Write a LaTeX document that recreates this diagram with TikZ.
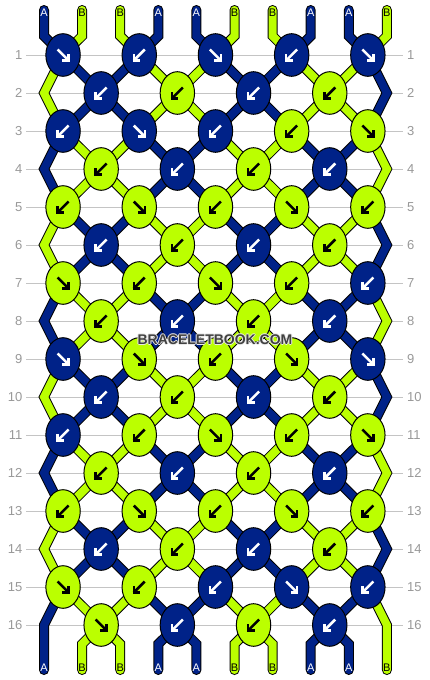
\documentclass[tikz,border=0pt]{standalone}
\usepackage{fontspec}
\setmainfont{Liberation Sans}
\usetikzlibrary{calc,shapes.geometric}
\definecolor{thA}{HTML}{002288}
\definecolor{thB}{HTML}{BBFF00}
\definecolor{gridc}{HTML}{C4C4C4}
\definecolor{numc}{HTML}{999999}
\definecolor{wmc}{HTML}{404040}
\definecolor{wmhalo}{HTML}{E8E8E8}
\pgfdeclarelayer{grid}\pgfdeclarelayer{bg}
\pgfsetlayers{grid,bg,main}
\tikzset{
  knotbase/.style={ellipse,draw=black,line width=1pt,minimum width=34.4pt,minimum height=42.6pt,inner sep=0pt},
  knotA/.style={knotbase,fill=thA},
  knotB/.style={knotbase,fill=thB},
  arrbase/.style={line width=2.5pt,line join=miter,line cap=butt},
  arrA/.style={arrbase,draw=white},
  arrB/.style={arrbase,draw=black},
  thrbase/.style={line width=8pt,line cap=round,line join=miter},
  thr0/.style={thrbase,draw=thA,preaction={draw=black,line width=10pt,line cap=round,line join=miter}},
  thr1/.style={thrbase,draw=thB,preaction={draw=black,line width=10pt,line cap=round,line join=miter}},
  labA/.style={text=white,font=\fontsize{11}{11}\selectfont,inner sep=0pt},
  labB/.style={text=black,font=\fontsize{11}{11}\selectfont,inner sep=0pt},
  rownum/.style={text=numc,font=\fontsize{13}{13}\selectfont,inner sep=0pt},
  wm/.style={font=\fontsize{14}{14}\selectfont\bfseries,inner sep=0pt},
}
\newcommand\arrse[1]{\draw[#1] (-5.5,-5.5) -- (5.5,5.5); \draw[#1] (5.5,-1) -- (5.5,5.5) -- (-1,5.5);}
\newcommand\arrsw[1]{\draw[#1] (5.5,-5.5) -- (-5.5,5.5); \draw[#1] (-5.5,-1) -- (-5.5,5.5) -- (1,5.5);}
\newcommand\knotrow[2]{%
  \foreach \c/\d [count=\k from 0] in {#2}{%
    \pgfmathsetmacro\xx{(isodd(#1) ? 63.05 : 101.15)+76.2*\k}%
    \pgfmathsetmacro\yy{55+38*(#1-1)}%
    \node[knot\c] (k#1-\k) at (\xx,\yy) {};
    \begin{scope}[shift={(k#1-\k.center)}]
      \csname arr\d\endcsname{arr\c}
    \end{scope}
  }%
}
\begin{document}
\begin{tikzpicture}[x=1pt,y=-1pt]
\useasboundingbox (0,0) rectangle (430,680);
\begin{pgfonlayer}{grid}
  \fill[white] (0,0) rectangle (430,680);
  \foreach \r in {1,...,16}{
    \pgfmathsetmacro\yy{55+38*(\r-1)}
    \draw[gridc,line width=1pt] (26,\yy) -- (403,\yy);
    \node[rownum,anchor=east] (nl\r) at (22.5,\yy) {\r};
    \node[rownum,anchor=west] (nr\r) at (407,\yy) {\r};
  }
\end{pgfonlayer}

\knotrow{1}{A/se,A/sw,A/se,A/sw,A/se}
\knotrow{2}{A/sw,B/sw,A/sw,B/sw}
\knotrow{3}{A/sw,A/se,A/sw,B/sw,B/se}
\knotrow{4}{B/sw,A/sw,B/sw,A/sw}
\knotrow{5}{B/sw,B/se,B/sw,B/se,B/sw}
\knotrow{6}{A/sw,B/sw,A/sw,B/sw}
\knotrow{7}{B/se,B/sw,B/se,B/sw,A/sw}
\knotrow{8}{B/sw,A/sw,B/sw,A/sw}
\knotrow{9}{A/se,B/se,B/sw,B/se,A/se}
\knotrow{10}{A/sw,B/sw,A/sw,B/sw}
\knotrow{11}{A/sw,B/sw,B/se,B/sw,B/se}
\knotrow{12}{B/sw,A/sw,B/sw,A/sw}
\knotrow{13}{B/sw,B/se,B/sw,B/se,B/sw}
\knotrow{14}{A/sw,B/sw,A/sw,B/sw}
\knotrow{15}{B/se,B/sw,A/sw,A/se,A/sw}
\knotrow{16}{B/se,A/sw,B/sw,A/sw}

\begin{pgfonlayer}{bg}
  \foreach \p in {0,...,9}{
    \pgfmathsetmacro\xp{44+38.1*\p}
    \coordinate (t\p) at (\xp,10);
    \coordinate (ta\p) at (\xp,36);
    \coordinate (ba\p) at (\xp,644);
    \coordinate (b\p) at (\xp,670);
  }
  \foreach \p in {1,...,8}{
    \pgfmathtruncatemacro\ktop{floor(\p/2)}
    \pgfmathtruncatemacro\kbot{floor((\p-1)/2)}
    \pgfmathtruncatemacro\ci{{0,1,1,0,0,1,1,0,0,1}[\p]}
    \draw[thr\ci] (t\p) -- (ta\p) -- (k1-\ktop.center);
    \draw[thr\ci] (k16-\kbot.center) -- (ba\p) -- (b\p);
    \foreach \r in {1,...,15}{
      \pgfmathtruncatemacro\rn{\r+1}
      \pgfmathtruncatemacro\ka{isodd(\r) ? floor(\p/2) : floor((\p-1)/2)}
      \pgfmathtruncatemacro\kb{isodd(\rn) ? floor(\p/2) : floor((\p-1)/2)}
      \pgfmathtruncatemacro\cc{mod(\ci+mod(floor((\r+1)/2),2),2)}
      \draw[thr\cc] (k\r-\ka.center) -- (k\rn-\kb.center);
    }
  }
  \draw[thr0] (t0) -- (ta0) -- (k1-0.center);
  \draw[thr1] (t9) -- (ta9) -- (k1-4.center);
  \foreach \r in {2,4,...,16}{
    \pgfmathsetmacro\yy{55+38*(\r-1)}
    \coordinate (e\r-L) at (44,\yy);
    \coordinate (e\r-R) at (386.9,\yy);
  }
  \foreach \r in {2,4,...,14}{
    \pgfmathtruncatemacro\rp{\r-1}
    \pgfmathtruncatemacro\rn{\r+1}
    \pgfmathtruncatemacro\cz{mod(\r/2,2)}
    \pgfmathtruncatemacro\cn{1-\cz}
    \draw[thr\cz] (k\rp-0.center) -- (e\r-L) -- (k\rn-0.center);
    \draw[thr\cn] (k\rp-4.center) -- (e\r-R) -- (k\rn-4.center);
  }
  \draw[thr0] (k15-0.center) -- (e16-L) -- (ba0) -- (b0);
  \draw[thr1] (k15-4.center) -- (e16-R) -- (ba9) -- (b9);
\end{pgfonlayer}

\foreach \p/\l in {0/A,1/B,2/B,3/A,4/A,5/B,6/B,7/A,8/A,9/B}{
  \node[lab\l] (lt\p) at (44+38.1*\p,12.5) {\l};
  \node[lab\l] (lb\p) at (44+38.1*\p,667.5) {\l};
}

\foreach \dx/\dy [count=\i] in {-1/0,1/0,0/-1,0/1}{
  \node[wm,text=wmhalo] (wmh\i) at (215+\dx,340+\dy) {BRACELETBOOK.COM};
}
\node[wm,text=wmc] (wm) at (215,340) {BRACELETBOOK.COM};
\end{tikzpicture}
\end{document}
